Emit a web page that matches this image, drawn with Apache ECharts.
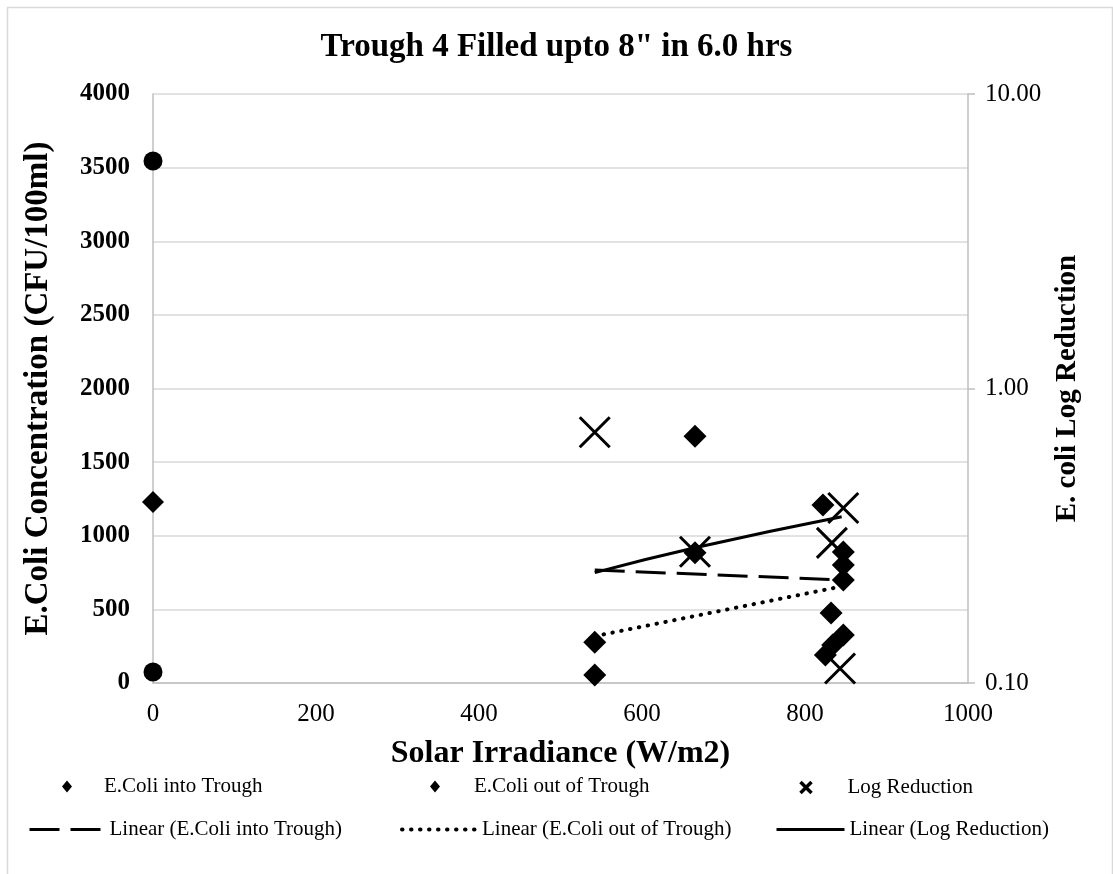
<!DOCTYPE html>
<html>
<head>
<meta charset="utf-8">
<script src="https://cdn.jsdelivr.net/npm/echarts@6/dist/echarts.min.js"></script>
<style>html,body{margin:0;padding:0;background:#fff}#c{width:1113px;height:874px}</style>
</head>
<body>
<div id="c"></div>
<script>
// ---- data ----
var irrIn = [542, 665, 822, 847, 847, 847, 834];
var ecoliIn = [277, 1676, 1209, 890, 801, 326, 258];
var irrOut = [542, 665, 847, 832, 825];
var ecoliOut = [54, 885, 700, 475, 190];
var irrLog = [542, 665, 847, 833, 843];
var logRed = [0.71, 0.279, 0.393, 0.299, 0.112];
var irrZero = [0, 0];
var ecoliZeroCircle = [3545, 75];
var irrZeroDiamond = [0];
var ecoliZeroDiamond = [1230];
var trendInX = [542, 845];
var trendInY = [767, 700];
var trendOutX = [542, 845];
var trendOutY = [318, 656];
var trendLogX = [542, 665, 845];
var trendLogY = [0.237, 0.288, 0.367];

function pairs(xs, ys) { return xs.map(function (x, i) { return [x, ys[i]]; }); }

var FONT = 'Liberation Serif';
var xMark = 'path://M0,0L10,10M10,0L0,10';
var DASH = [30, 11];
var DOT = [0.5, 8.5];

var chart = echarts.init(document.getElementById('c'));
var legendBase = function (name, left, top, w, h, icon) {
  var o = {
    data: [name], left: left, top: top, itemWidth: w, itemHeight: h,
    textStyle: {fontFamily: FONT, fontSize: 21, color: '#000'},
    selectedMode: false, padding: 0
  };
  if (icon) o.icon = icon;
  return o;
};
var legends = [
  legendBase('E.Coli into Trough', 62, 776, 10, 12, 'diamond'),
  legendBase('E.Coli out of Trough', 430, 776, 10, 12, 'diamond'),
  legendBase('Log Reduction', 798, 777, 11, 11, xMark),
  legendBase('Linear (E.Coli into Trough)', 28, 819, 75, 14),
  legendBase('Linear (E.Coli out of Trough)', 400, 819, 75, 14),
  legendBase('Linear (Log Reduction)', 775, 819, 68, 14)
];
legends[0].textStyle.padding = [0, 0, 0, 27];
legends[1].textStyle.padding = [0, 0, 0, 29];
legends[2].textStyle.padding = [0, 0, 0, 31];
legends[2].itemStyle = {color: 'none', borderColor: '#000', borderWidth: 3.5};
legends[3].lineStyle = {color: '#000', width: 3, type: DASH};
legends[4].lineStyle = {color: '#000', width: 4, type: DOT, cap: 'round'};
legends[5].lineStyle = {color: '#000', width: 3, type: 'solid'};

var trendItem = {color: 'rgba(0,0,0,0)', opacity: 0};

chart.setOption({
  animation: false,
  backgroundColor: '#fff',
  textStyle: {fontFamily: FONT},
  title: {
    text: 'Trough 4 Filled upto 8" in 6.0 hrs',
    left: 'center', top: 26,
    textStyle: {fontFamily: FONT, fontWeight: 'bold', fontSize: 33, color: '#000'}
  },
  graphic: [{
    type: 'rect', left: 5, top: 5, silent: true,
    shape: {x: 0, y: 0, width: 1105, height: 900},
    style: {fill: 'none', stroke: '#d9d9d9', lineWidth: 1.5}
  }],
  legend: legends,
  grid: {left: 153, right: 145, top: 94, bottom: 191},
  xAxis: {
    type: 'value', min: 0, max: 1000, interval: 200,
    name: 'Solar Irradiance (W/m2)', nameLocation: 'middle', nameGap: 55,
    nameTextStyle: {fontFamily: FONT, fontWeight: 'bold', fontSize: 32, color: '#000'},
    axisLine: {show: true, lineStyle: {color: '#bfbfbf', width: 1.5}},
    axisTick: {show: false},
    axisLabel: {fontFamily: FONT, fontSize: 25, color: '#000', margin: 19,
      formatter: function (v) { return String(v); }},
    splitLine: {show: false}
  },
  yAxis: [{
    type: 'value', min: 0, max: 4000, interval: 500,
    name: 'E.Coli Concentration (CFU/100ml)', nameLocation: 'middle', nameGap: 98,
    nameTextStyle: {fontFamily: FONT, fontWeight: 'bold', fontSize: 33, color: '#000'},
    axisLine: {show: true, lineStyle: {color: '#bfbfbf', width: 1.5}},
    axisTick: {show: false},
    axisLabel: {fontFamily: FONT, fontWeight: 'bold', fontSize: 25, color: '#000', margin: 23,
      formatter: function (v) { return String(v); }},
    splitLine: {show: true, lineStyle: {color: '#d9d9d9', width: 1.5}}
  }, {
    type: 'log', logBase: 10, min: 0.1, max: 10, position: 'right',
    name: 'E. coli Log Reduction', nameLocation: 'middle', nameGap: 85, nameRotate: 90,
    nameTextStyle: {fontFamily: FONT, fontWeight: 'bold', fontSize: 29, color: '#000'},
    axisLine: {show: true, lineStyle: {color: '#bfbfbf', width: 1.5}},
    axisTick: {show: true, length: 7, lineStyle: {color: '#bfbfbf', width: 1.5}},
    axisLabel: {fontFamily: FONT, fontSize: 25, color: '#000', margin: 17,
      formatter: function (v) { return Number(v).toFixed(2); }},
    splitLine: {show: false}
  }],
  series: [
    {name: 'zero-circle', type: 'scatter', symbol: 'circle', symbolSize: 19,
     itemStyle: {color: '#000', opacity: 1}, data: pairs(irrZero, ecoliZeroCircle)},
    {name: 'zero-diamond', type: 'scatter', symbol: 'diamond', symbolSize: [22, 22],
     itemStyle: {color: '#000', opacity: 1}, data: pairs(irrZeroDiamond, ecoliZeroDiamond)},
    {name: 'E.Coli into Trough', type: 'scatter', symbol: 'diamond', symbolSize: [23, 23],
     itemStyle: {color: '#000', opacity: 1}, data: pairs(irrIn, ecoliIn)},
    {name: 'E.Coli out of Trough', type: 'scatter', symbol: 'diamond', symbolSize: [23, 23],
     itemStyle: {color: '#000', opacity: 1}, data: pairs(irrOut, ecoliOut)},
    {name: 'Log Reduction', type: 'scatter', yAxisIndex: 1, symbol: xMark, symbolSize: 30,
     itemStyle: {color: 'none', borderColor: '#000', borderWidth: 3, opacity: 1}, data: pairs(irrLog, logRed)},
    {name: 'Linear (E.Coli into Trough)', type: 'line', symbol: 'none', z: 5,
     lineStyle: {color: '#000', width: 3, type: DASH}, itemStyle: trendItem,
     data: pairs(trendInX, trendInY)},
    {name: 'Linear (E.Coli out of Trough)', type: 'line', symbol: 'none', z: 5,
     lineStyle: {color: '#000', width: 4, type: DOT, cap: 'round'}, itemStyle: trendItem,
     data: pairs(trendOutX, trendOutY)},
    {name: 'Linear (Log Reduction)', type: 'line', yAxisIndex: 1, symbol: 'none', smooth: true, z: 5,
     lineStyle: {color: '#000', width: 3}, itemStyle: trendItem,
     data: pairs(trendLogX, trendLogY)}
  ]
});
</script>
</body>
</html>
